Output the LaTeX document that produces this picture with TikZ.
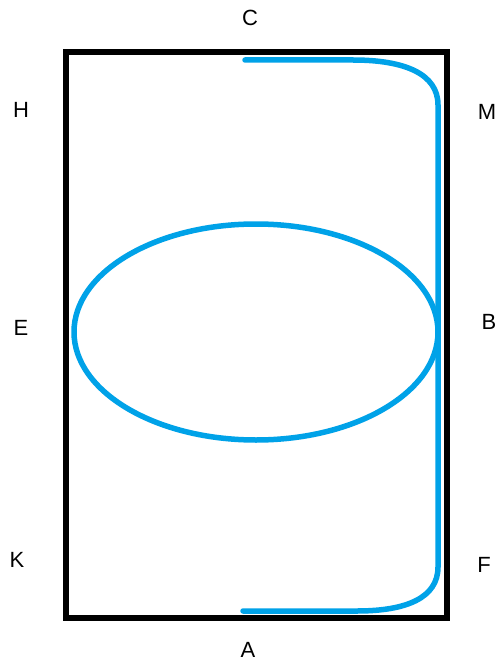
\documentclass[tikz,border=0pt]{standalone}
\usepackage{fontspec}
\setmainfont{Liberation Sans}
\definecolor{paintblue}{RGB}{0,162,232}
\begin{document}
\begin{tikzpicture}[x=1pt,y=-1pt,
  lbl/.style={font=\fontsize{22}{22}\selectfont, inner sep=0pt, anchor=center},
  frame/.style={draw=black, line width=6pt},
  blueline/.style={draw=paintblue, line width=5.5pt, line cap=round, line join=round}]
\useasboundingbox (0,0) rectangle (501,671);
\fill[white] (0,0) rectangle (501,671);
\draw[frame] (65.5,52) rectangle (447,618);
\draw[blueline] (256,332) ellipse [x radius=182, y radius=108];
\coordinate (ts) at (245,60);
\coordinate (te) at (353,60);
\coordinate (rt) at (438,105);
\coordinate (rb) at (438,567);
\coordinate (bs) at (357,611);
\coordinate (be) at (243,611);
\draw[blueline] (ts) -- (te) .. controls (405,60) and (438,74) .. (rt) -- (rb)
  .. controls (438,598) and (406,611) .. (bs) -- (be);
\node[lbl] (C) at (250,18) {C};
\node[lbl] (H) at (21,110) {H};
\node[lbl] (M) at (487,112) {M};
\node[lbl] (E) at (21,328) {E};
\node[lbl] (B) at (489,322) {B};
\node[lbl] (K) at (17,560) {K};
\node[lbl] (F) at (484,565) {F};
\node[lbl] (A) at (248,650) {A};
\end{tikzpicture}
\end{document}
